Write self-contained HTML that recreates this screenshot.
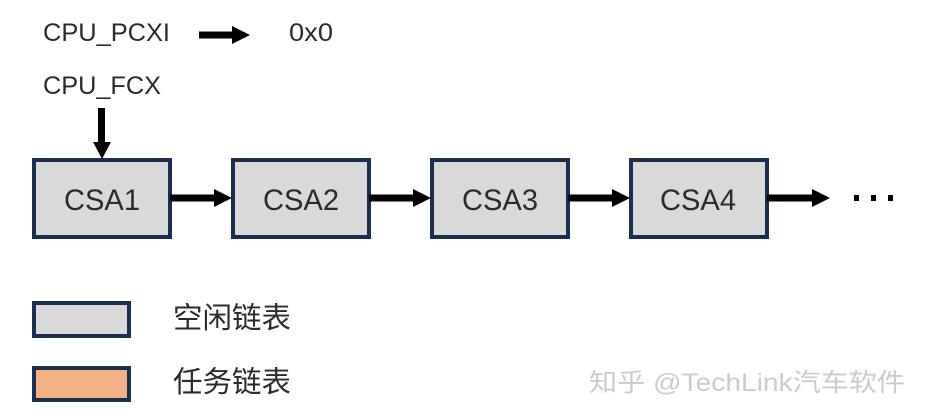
<!DOCTYPE html>
<html><head><meta charset="utf-8"><style>
html,body{margin:0;padding:0;background:#fff;width:929px;height:420px;overflow:hidden}
svg{display:block}
text{font-family:"Liberation Sans","Noto Sans CJK SC",sans-serif;fill:#2b2b2b}
</style></head><body>
<svg width="929" height="420" viewBox="0 0 929 420" xmlns="http://www.w3.org/2000/svg">
<g fill="#d9d9d9" stroke="#1b2d51" stroke-width="4">
<rect x="34" y="160" width="136" height="77"/>
<rect x="233" y="160" width="136" height="77"/>
<rect x="432" y="160" width="136" height="77"/>
<rect x="631" y="160" width="136" height="77"/>
<rect x="34" y="303" width="95" height="33"/>
</g>
<rect x="34" y="368" width="95" height="32" fill="#f4b183" stroke="#1b2d51" stroke-width="4"/>
<g fill="#000">
<rect x="199" y="31.5" width="34" height="7"/><polygon points="232,26 250,35 232,44"/>
<rect x="98" y="108" width="7" height="35"/><polygon points="93,142 111,142 102,159"/>
<rect x="170" y="194.5" width="46" height="7"/><polygon points="214,189 232,198 214,207"/>
<rect x="369" y="194.5" width="46" height="7"/><polygon points="413,189 431,198 413,207"/>
<rect x="568" y="194.5" width="46" height="7"/><polygon points="612,189 630,198 612,207"/>
<rect x="767" y="194.5" width="46" height="7"/><polygon points="812,189 830,198 812,207"/>
<rect x="854" y="195" width="5" height="6"/><rect x="871" y="195" width="5" height="6"/><rect x="888" y="195" width="5" height="6"/>
</g>
<g font-size="25">
<text x="43" y="41" textLength="127" lengthAdjust="spacingAndGlyphs">CPU_PCXI</text>
<text x="289" y="41" textLength="44" lengthAdjust="spacingAndGlyphs">0x0</text>
<text x="43" y="94" textLength="118" lengthAdjust="spacingAndGlyphs">CPU_FCX</text>
</g>
<g font-size="30">
<text x="64" y="210" textLength="76" lengthAdjust="spacingAndGlyphs">CSA1</text>
<text x="263" y="210" textLength="76" lengthAdjust="spacingAndGlyphs">CSA2</text>
<text x="462" y="210" textLength="76" lengthAdjust="spacingAndGlyphs">CSA3</text>
<text x="660" y="210" textLength="76" lengthAdjust="spacingAndGlyphs">CSA4</text>
</g>
<g font-size="29.5">
<text x="173" y="328">空闲链表</text>
<text x="173" y="392">任务链表</text>
</g>
<text x="589" y="391" font-size="25" style="fill:#cccccc" textLength="316" lengthAdjust="spacingAndGlyphs">知乎 @TechLink汽车软件</text>
</svg>
</body></html>
